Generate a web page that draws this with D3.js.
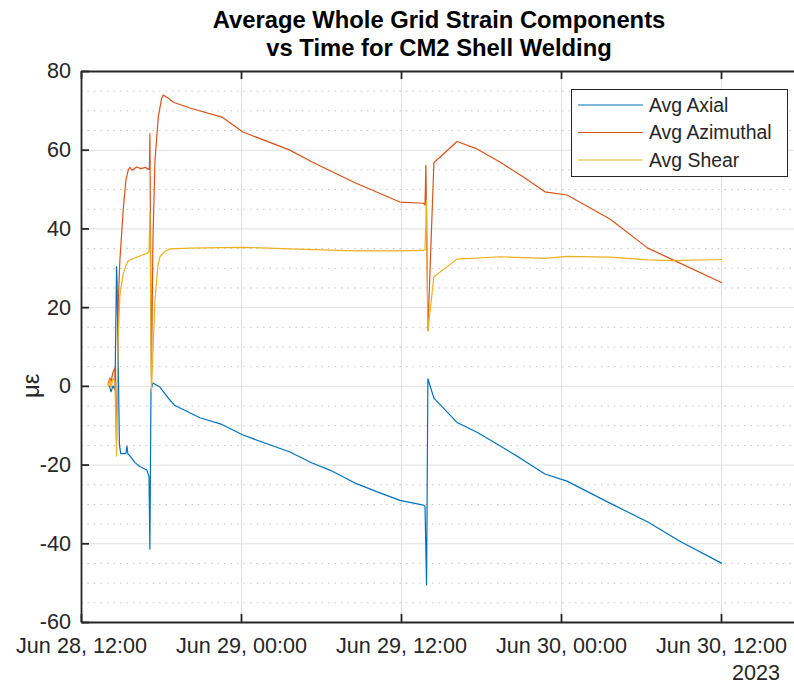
<!DOCTYPE html>
<html>
<head>
<meta charset="utf-8">
<script src="https://cdn.jsdelivr.net/npm/d3@7"></script>
<style>
  body { margin: 0; background: #fff; }
  svg { display: block; font-family: "Liberation Sans", Arial, sans-serif; }
</style>
</head>
<body>
<div id="chart"></div>
<script>
'use strict';

// ---- data (time, micro-strain) ----
var axialTime = ["2023-06-28 14:02","2023-06-28 14:10","2023-06-28 14:15","2023-06-28 14:24","2023-06-28 14:33",
    "2023-06-28 14:40","2023-06-28 14:42","2023-06-28 14:53","2023-06-28 14:59","2023-06-28 15:22","2023-06-28 15:27",
    "2023-06-28 15:31","2023-06-28 15:40","2023-06-28 16:03","2023-06-28 16:25","2023-06-28 16:56","2023-06-28 17:06",
    "2023-06-28 17:10","2023-06-28 17:15","2023-06-28 17:24","2023-06-28 17:55","2023-06-28 18:40","2023-06-28 19:03",
    "2023-06-28 20:55","2023-06-28 22:34","2023-06-29 00:09","2023-06-29 03:40","2023-06-29 05:20","2023-06-29 06:40",
    "2023-06-29 08:33","2023-06-29 10:25","2023-06-29 11:55","2023-06-29 13:41","2023-06-29 13:48","2023-06-29 13:55",
    "2023-06-29 14:01","2023-06-29 14:28","2023-06-29 16:12","2023-06-29 17:42","2023-06-29 19:25","2023-06-29 20:55",
    "2023-06-29 22:48","2023-06-30 00:27","2023-06-30 03:40","2023-06-30 06:31","2023-06-30 08:55","2023-06-30 12:04"];
var axialVals = [0.5,-0.5,-1.5,0,-1, 30.3,27,-15,-17.2,-17.2,-15.3, -17.3,-17.8,-19.5,-20.5,-21.4,-23,
    -41.5,-1,0.7,-0.3,-3.6,-5, -8.1,-9.8,-12.5,-16.8,-19.6,-21.4, -24.7,-27.2,-29.1,-30.3,-30.6,-50.6,
    1.8,-3.1,-9.3,-11.8,-15.2,-18.3, -22.4,-24.2,-29.8,-34.6,-39.5,-45.1];

var azimTime = ["2023-06-28 14:02","2023-06-28 14:10","2023-06-28 14:15","2023-06-28 14:24","2023-06-28 14:33",
    "2023-06-28 14:40","2023-06-28 14:48","2023-06-28 14:55","2023-06-28 15:10","2023-06-28 15:22","2023-06-28 15:33",
    "2023-06-28 15:40","2023-06-28 15:50","2023-06-28 16:10","2023-06-28 16:30","2023-06-28 16:50","2023-06-28 17:06",
    "2023-06-28 17:08","2023-06-28 17:10","2023-06-28 17:17","2023-06-28 17:24","2023-06-28 17:33","2023-06-28 17:48",
    "2023-06-28 18:03","2023-06-28 18:10","2023-06-28 18:33","2023-06-28 18:58","2023-06-28 20:10","2023-06-28 22:34",
    "2023-06-29 00:09","2023-06-29 03:40","2023-06-29 05:20","2023-06-29 08:33","2023-06-29 11:55","2023-06-29 13:41",
    "2023-06-29 13:48","2023-06-29 13:52","2023-06-29 14:01","2023-06-29 14:28","2023-06-29 16:12","2023-06-29 17:42",
    "2023-06-29 19:25","2023-06-29 21:04","2023-06-29 22:48","2023-06-30 00:27","2023-06-30 03:40","2023-06-30 06:31",
    "2023-06-30 08:24","2023-06-30 12:04"];
var azimVals = [0.5,2,1,3.5,4.5, -14,21.8,32,44.7,52.3,54.9, 55.5,54.8,55.6,55.2,55.5,55,
    55.6,64,2,38,57.4,68.4, 73.1,73.9,73.1,72,70.6,68.3, 64.5,59.9,56.9,51.6,46.7,46.4,
    46,56,14,56.7,62.1,60.2, 56.9,53.3,49.3,48.5,42.4,35, 32,26.2];

var shearTime = ["2023-06-28 14:02","2023-06-28 14:10","2023-06-28 14:15","2023-06-28 14:24","2023-06-28 14:33",
    "2023-06-28 14:40","2023-06-28 14:46","2023-06-28 14:55","2023-06-28 15:10","2023-06-28 15:22","2023-06-28 15:31",
    "2023-06-28 15:40","2023-06-28 16:25","2023-06-28 17:01","2023-06-28 17:06","2023-06-28 17:10","2023-06-28 17:17",
    "2023-06-28 17:33","2023-06-28 17:46","2023-06-28 17:55","2023-06-28 18:18","2023-06-28 18:40","2023-06-28 20:10",
    "2023-06-28 22:34","2023-06-29 00:09","2023-06-29 03:40","2023-06-29 08:33","2023-06-29 11:55","2023-06-29 13:41",
    "2023-06-29 13:48","2023-06-29 13:55","2023-06-29 14:01","2023-06-29 14:28","2023-06-29 16:12","2023-06-29 19:25",
    "2023-06-29 22:48","2023-06-30 00:27","2023-06-30 03:40","2023-06-30 06:31","2023-06-30 08:24","2023-06-30 12:04"];
var shearVals = [0,1.5,-0.5,2,1, -17.8,10,23,28.5,30.5,31.6, 32,33,33.8,34.2,44,-1.5,
    22,30.5,32.8,34.2,34.8,35, 35.1,35.2,34.8,34.3,34.3,34.4, 34.6,47.2,14,27.7,32.2,32.8,
    32.4,32.9,32.7,32,31.8,32.1];

var seriesNames  = ["Avg Axial", "Avg Azimuthal", "Avg Shear"];
var seriesColors = ["#0072BD", "#D95319", "#EDB120"];
var yTicks = [-60, -40, -20, 0, 20, 40, 60, 80];
var xTickLabels = ["2023-06-28 12:00","2023-06-29 00:00","2023-06-29 12:00","2023-06-30 00:00","2023-06-30 12:00"];
var xRange = ["2023-06-28 12:00", "2023-06-30 17:42"];
var titleLines = ["Average Whole Grid Strain Components", "vs Time for CM2 Shell Welding"];

var W = 794, H = 685,
    pL = 81, pR = 797, pT = 71, pB = 622,
    axisColor = "#262626";

var parse = d3.timeParse("%Y-%m-%d %H:%M");
function pairs(ts, vs) { return ts.map(function(t, i){ return {t: parse(t), v: vs[i]}; }); }
var series = [pairs(axialTime, axialVals), pairs(azimTime, azimVals), pairs(shearTime, shearVals)];

var x = d3.scaleTime().domain(xRange.map(parse)).range([pL, pR]),
    y = d3.scaleLinear().domain([-60, 80]).range([pB, pT]);

var svg = d3.select("#chart").append("svg").attr("width", W).attr("height", H);

svg.append("defs").append("clipPath").attr("id", "plot")
    .append("rect").attr("x", pL).attr("y", pT).attr("width", pR - pL).attr("height", pB - pT);

// minor y grid, dotted
var minor = d3.range(-60, 81, 5).filter(function(d){ return d % 20 !== 0; });
svg.append("g").selectAll("line").data(minor).enter().append("line")
    .attr("x1", pL).attr("x2", pR)
    .attr("y1", function(d){ return y(d) + 0.5; }).attr("y2", function(d){ return y(d) + 0.5; })
    .attr("stroke", "#c4c4c4").attr("stroke-width", 1).attr("stroke-dasharray", "1.5,5");

// major grid
var xt = xTickLabels.map(parse);
svg.append("g").selectAll("line").data(yTicks).enter().append("line")
    .attr("x1", pL).attr("x2", pR)
    .attr("y1", function(d){ return y(d) + 0.5; }).attr("y2", function(d){ return y(d) + 0.5; })
    .attr("stroke", "#dfdfdf").attr("stroke-width", 1);
svg.append("g").selectAll("line").data(xt).enter().append("line")
    .attr("y1", pT).attr("y2", pB)
    .attr("x1", function(d){ return x(d) + 0.5; }).attr("x2", function(d){ return x(d) + 0.5; })
    .attr("stroke", "#dfdfdf").attr("stroke-width", 1);

// the three series
var line = d3.line().x(function(d){ return x(d.t); }).y(function(d){ return y(d.v); });
svg.append("g").attr("clip-path", "url(#plot)").selectAll("path").data(series).enter().append("path")
    .attr("d", line)
    .attr("fill", "none")
    .attr("stroke", function(d, i){ return seriesColors[i]; })
    .attr("stroke-width", 1.2)
    .attr("stroke-linejoin", "round");

// axes: ticks inward, labels outside
var fmt = d3.timeFormat("%b %d, %H:%M");
var xAxis = svg.append("g").attr("transform", "translate(0," + pB + ")")
    .call(d3.axisBottom(x).tickValues(xt).tickSizeInner(-8).tickSizeOuter(0).tickPadding(12).tickFormat(fmt));
var yAxis = svg.append("g").attr("transform", "translate(" + pL + ",0)")
    .call(d3.axisLeft(y).tickValues(yTicks).tickSizeInner(-8).tickSizeOuter(0).tickPadding(10).tickFormat(function(d){ return String(d); }));
var topAxis = svg.append("g").attr("transform", "translate(0," + pT + ")")
    .call(d3.axisTop(x).tickValues(xt).tickSizeInner(-8).tickSizeOuter(0).tickFormat(""));

[xAxis, yAxis, topAxis].forEach(function(g){
    g.select(".domain").attr("stroke", axisColor).attr("stroke-width", 1.8);
    g.selectAll(".tick line").attr("stroke", axisColor).attr("stroke-width", 1.8);
    g.selectAll(".tick text").attr("fill", axisColor).style("font-size", "21.6px")
        .style("font-family", "'Liberation Sans', Arial, sans-serif");
});
xAxis.selectAll(".tick text").attr("dy", "0.9em");

svg.append("text").attr("x", 780).attr("y", 680).attr("text-anchor", "end")
    .attr("fill", axisColor).style("font-size", "21.6px").text("2023");

// y label
svg.append("text").attr("transform", "translate(39," + y(0) + ") rotate(-90)")
    .attr("text-anchor", "middle").attr("fill", axisColor).style("font-size", "23.8px").text("με");

// title
svg.append("g").selectAll("text").data(titleLines).enter().append("text")
    .attr("x", (pL + pR) / 2).attr("y", function(d, i){ return 28 + i * 28; })
    .attr("text-anchor", "middle").attr("fill", "#000").style("font-size", "23.8px").style("font-weight", "bold")
    .text(function(d){ return d; });

// legend
var lg = svg.append("g");
lg.append("rect").attr("x", 571.5).attr("y", 89.5).attr("width", 216).attr("height", 87)
    .attr("fill", "#fff").attr("stroke", axisColor).attr("stroke-width", 1);
seriesNames.forEach(function(name, i){
    var yy = 105 + i * 27.5;
    lg.append("line").attr("x1", 578).attr("x2", 643).attr("y1", yy).attr("y2", yy)
        .attr("stroke", seriesColors[i]).attr("stroke-width", 1.2);
    lg.append("text").attr("x", 649).attr("y", yy).attr("dy", "0.35em")
        .attr("fill", axisColor).style("font-size", "19.4px").text(name);
});
</script>
</body>
</html>
